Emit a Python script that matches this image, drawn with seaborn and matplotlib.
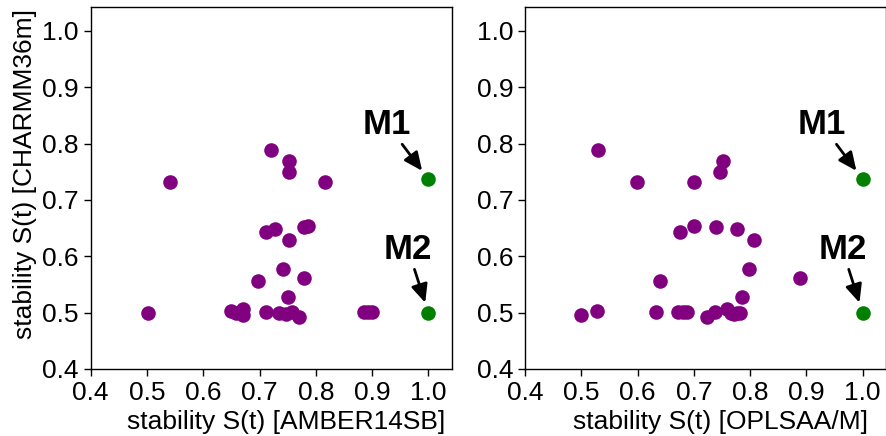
import matplotlib
matplotlib.use("Agg")
import matplotlib.pyplot as plt
import numpy as np
import pandas as pd
import seaborn as sns

# Stability S(t) per system under CHARMM36m (y, shared by both panels)
charmm = [0.788, 0.769, 0.750, 0.731, 0.731, 0.644, 0.648, 0.652, 0.654, 0.629,
          0.577, 0.556, 0.561, 0.528,
          0.506, 0.493, 0.496, 0.497, 0.503, 0.502, 0.502, 0.502, 0.502, 0.501,
          0.500, 0.500, 0.500]
# Same systems under AMBER14SB (left panel x)
amber = [0.721, 0.753, 0.752, 0.541, 0.817, 0.711, 0.727, 0.779, 0.786, 0.752,
         0.741, 0.698, 0.779, 0.751,
         0.670, 0.770, 0.671, 0.747, 0.650, 0.885, 0.893, 0.900, 0.711, 0.757,
         0.502, 0.659, 0.735]
# Same systems under OPLSAA/M (right panel x)
oplsaa = [0.530, 0.752, 0.747, 0.599, 0.700, 0.675, 0.776, 0.740, 0.700, 0.807,
          0.798, 0.639, 0.888, 0.786,
          0.759, 0.723, 0.500, 0.772, 0.528, 0.687, 0.632, 0.737, 0.680, 0.672,
          0.782, 0.777, 0.766]

# Highlighted systems
hl_names = ["M1", "M2"]
hl_charmm = [0.737, 0.500]
hl_amber = [1.000, 1.000]
hl_oplsaa = [1.000, 1.000]

ticks = [0.4, 0.5, 0.6, 0.7, 0.8, 0.9, 1.0]
tick_labels = ["0.4", "0.5", "0.6", "0.7", "0.8", "0.9", "1.0"]
xlabels = ["stability S(t) [AMBER14SB]", "stability S(t) [OPLSAA/M]"]
ylabel = "stability S(t) [CHARMM36m]"

sns.set_style("ticks", {"axes.edgecolor": "black", "xtick.color": "black",
                        "ytick.color": "black", "axes.labelcolor": "black",
                        "text.color": "black"})
plt.rcParams["font.family"] = ["Liberation Sans", "DejaVu Sans"]

fig = plt.figure(figsize=(8.87, 4.36), dpi=100)
axes = [fig.add_axes([0.1023, 0.1537, 0.4073, 0.8296]),
        fig.add_axes([0.5919, 0.1537, 0.4073, 0.8296])]

main_df = pd.DataFrame({"charmm": charmm, "amber": amber, "oplsaa": oplsaa})
hl_df = pd.DataFrame({"name": hl_names, "charmm": hl_charmm,
                      "amber": hl_amber, "oplsaa": hl_oplsaa})

# label text offsets (data units) relative to the highlighted point
label_offsets = {"M1": (-0.073, 0.097), "M2": (-0.036, 0.112)}

for ax, xcol, xl in zip(axes, ["amber", "oplsaa"], xlabels):
    sns.scatterplot(data=main_df, x=xcol, y="charmm", color="purple", s=110,
                    linewidth=0, ax=ax, legend=False, zorder=3)
    sns.scatterplot(data=hl_df, x=xcol, y="charmm", color="green", s=110,
                    linewidth=0, ax=ax, legend=False, zorder=3)
    for _, row in hl_df.iterrows():
        dx, dy = label_offsets[row["name"]]
        ax.annotate(row["name"], xy=(row[xcol], row["charmm"]),
                    xytext=(row[xcol] + dx, row["charmm"] + dy),
                    ha="center", va="center", fontsize=25, fontweight="bold",
                    arrowprops=dict(arrowstyle="-|>,head_length=0.55,head_width=0.25",
                                    color="black", lw=2, mutation_scale=20,
                                    shrinkA=0, shrinkB=7.5))
    ax.set_xlim(0.4, 1.042)
    ax.set_ylim(0.4, 1.042)
    ax.set_xticks(ticks)
    ax.set_xticklabels(tick_labels)
    ax.set_yticks(ticks)
    ax.set_yticklabels(tick_labels)
    ax.tick_params(labelsize=19, length=5, width=1)
    ax.set_xlabel(xl, fontsize=19)
    ax.set_ylabel("")
    ax.xaxis.label.set_x(0.54)
    for sp in ax.spines.values():
        sp.set_visible(True)
        sp.set_linewidth(1)

axes[0].set_ylabel(ylabel, fontsize=19)
axes[0].yaxis.label.set_y(0.54)

fig.savefig("out.png", dpi=100)
